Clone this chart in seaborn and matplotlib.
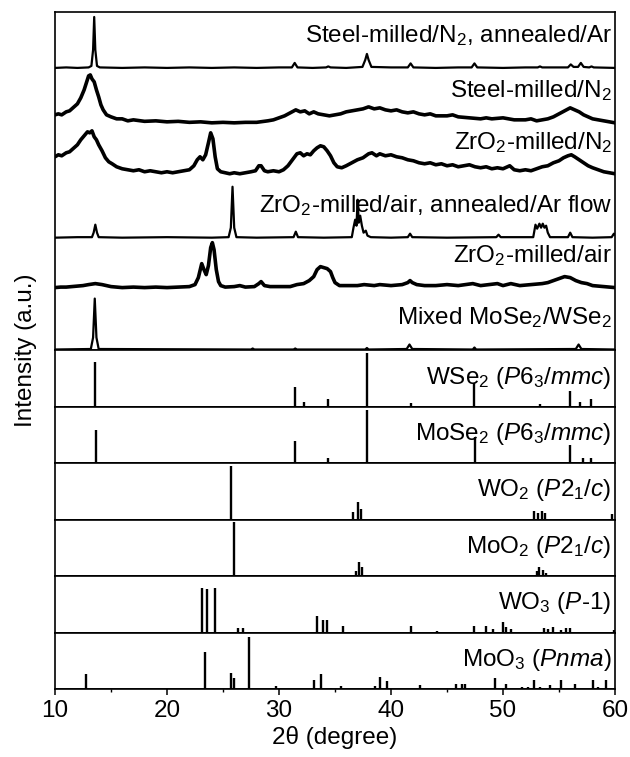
import matplotlib
matplotlib.use("Agg")
import matplotlib.pyplot as plt
import pandas as pd
import seaborn as sns
from matplotlib.ticker import MultipleLocator

# ---------------------------------------------------------------------------
# Measured XRD patterns: (2theta, intensity above the pattern's own baseline)
# ---------------------------------------------------------------------------
steel_n2_annealed = [
    (10.0, 0), (11.0, 0.5), (12.0, 0), (13.0, 0.5), (13.25, 2), (13.4, 18),
    (13.5, 51), (13.6, 18), (13.75, 2), (14.0, 0.5), (16.0, 0), (18.0, 0.5),
    (20.0, 0), (22.0, 0.5), (24.0, 0), (26.0, 0.5), (28.0, 0), (30.0, 0.5),
    (31.15, 0.5), (31.4, 5), (31.65, 0.5), (33.0, 0), (34.2, 0.5), (34.4, 1.5),
    (34.6, 0.5), (36.0, 0), (37.45, 1), (37.7, 8), (37.85, 14), (38.0, 8),
    (38.25, 1), (40.0, 0.5), (41.5, 0.5), (41.75, 4.5), (42.0, 0.5), (44.0, 0),
    (46.0, 0.5), (47.2, 0.5), (47.45, 4.5), (47.7, 0.5), (50.0, 0), (52.0, 0.5),
    (53.1, 0.5), (53.3, 1.5), (53.5, 0.5), (55.8, 0.5), (56.05, 3.5), (56.3, 1),
    (56.7, 1), (56.95, 5), (57.2, 1), (57.7, 0.5), (57.9, 1.5), (58.1, 0.5),
    (60.0, 0),
]

steel_n2 = [
    (10.0, 8), (10.3, 9), (10.6, 8), (11.0, 11), (11.3, 12), (11.6, 15),
    (12.0, 19), (12.3, 25), (12.6, 33), (12.8, 40), (13.0, 47), (13.15, 48),
    (13.3, 44), (13.5, 41), (13.7, 33), (13.9, 26), (14.1, 18), (14.3, 13),
    (14.6, 8), (15.0, 6), (15.5, 4), (16.0, 4), (16.5, 2), (17.0, 3),
    (18.0, 1.5), (19.0, 2), (20.0, 1), (21.0, 1.5), (22.0, 0.5), (23.0, 1),
    (24.0, 0), (25.0, 0.5), (26.0, 0), (27.0, 0.5), (28.0, 0.5), (29.0, 2),
    (29.5, 3), (30.0, 5), (30.5, 7), (31.0, 10), (31.5, 13), (31.9, 11),
    (32.3, 12), (32.7, 9), (33.1, 11), (33.5, 9), (34.0, 8), (34.5, 7),
    (35.0, 8), (35.5, 9), (36.0, 11), (36.5, 12), (37.0, 13), (37.5, 14),
    (38.0, 16), (38.5, 14), (39.0, 15), (39.5, 13), (40.0, 12), (40.5, 13),
    (41.0, 11), (41.5, 10), (42.0, 11), (42.5, 9), (43.0, 8), (43.5, 9),
    (44.0, 7), (45.0, 7), (45.5, 8), (46.0, 6), (47.0, 5), (48.0, 4),
    (48.5, 5), (49.0, 4), (50.0, 5), (51.0, 3), (52.0, 3), (52.5, 4),
    (53.0, 2), (53.5, 3), (54.0, 4), (54.5, 6), (55.0, 9), (55.5, 12),
    (56.0, 15), (56.4, 13), (56.8, 11), (57.2, 8), (57.6, 6), (58.0, 4),
    (58.5, 3), (59.0, 2), (59.5, 1), (60.0, 0),
]

zro2_n2 = [
    (10.0, 18), (10.3, 20), (10.6, 19), (11.0, 22), (11.3, 23), (11.6, 26),
    (12.0, 30), (12.3, 35), (12.6, 39), (12.9, 43), (13.1, 42), (13.3, 44),
    (13.5, 38), (13.7, 35), (13.9, 30), (14.2, 24), (14.5, 17), (14.8, 13),
    (15.1, 11), (15.5, 8), (16.0, 6), (16.5, 5), (17.0, 4), (17.5, 5),
    (18.0, 3), (18.5, 4), (19.0, 3), (19.5, 2), (20.0, 3), (20.5, 2),
    (21.0, 3), (21.5, 4), (22.0, 5), (22.4, 9), (22.7, 15), (22.95, 18),
    (23.2, 15), (23.45, 20), (23.7, 32), (23.9, 42), (24.1, 36), (24.3, 18),
    (24.5, 6), (24.8, 3), (25.2, 2), (25.6, 1), (26.0, 2), (26.5, 1),
    (27.0, 2), (27.5, 3), (27.9, 4), (28.2, 9), (28.4, 9), (28.7, 4),
    (29.0, 3), (29.5, 4), (30.0, 3), (30.4, 5), (30.8, 9), (31.2, 15),
    (31.6, 21), (31.9, 22), (32.2, 19), (32.5, 21), (32.8, 20), (33.1, 24),
    (33.4, 27), (33.7, 29), (34.0, 28), (34.3, 24), (34.6, 19), (34.9, 12),
    (35.2, 8), (35.6, 7), (36.0, 9), (36.5, 12), (37.0, 15), (37.5, 17),
    (38.0, 21), (38.3, 22), (38.7, 19), (39.0, 21), (39.5, 19), (40.0, 20),
    (40.5, 18), (41.0, 17), (41.5, 15), (42.0, 14), (42.5, 12), (43.0, 11),
    (43.5, 12), (44.0, 10), (44.5, 11), (45.0, 9), (45.5, 10), (46.0, 8),
    (46.5, 9), (47.0, 10), (47.5, 8), (48.0, 7), (48.5, 8), (49.0, 6),
    (49.5, 7), (50.0, 6), (50.6, 9), (51.0, 5), (51.5, 4), (52.0, 5),
    (52.5, 4), (53.0, 6), (53.5, 8), (54.0, 9), (54.5, 12), (55.0, 14),
    (55.4, 17), (55.8, 19), (56.1, 20), (56.4, 18), (56.8, 15), (57.2, 12),
    (57.6, 9), (58.0, 7), (58.5, 5), (59.0, 3), (59.5, 2), (60.0, 1),
]

zro2_air_annealed = [
    (10.0, 0), (12.0, 0.5), (13.3, 0.5), (13.45, 5), (13.6, 13), (13.75, 5),
    (13.9, 0.5), (16.0, 0), (20.0, 0.5), (24.0, 0), (25.5, 0.5), (25.7, 10),
    (25.85, 51), (26.0, 10), (26.2, 0.5), (28.0, 0), (31.3, 0.5), (31.5, 6),
    (31.7, 0.5), (34.0, 0), (36.5, 0.5), (36.65, 10), (36.8, 18), (36.92, 12),
    (37.02, 38), (37.12, 15), (37.25, 22), (37.4, 12), (37.55, 5), (37.75, 7),
    (37.9, 2), (38.2, 0.5), (40.0, 0), (41.5, 0.5), (41.7, 4), (41.9, 0.5),
    (45.0, 0), (49.4, 0.5), (49.6, 3), (49.8, 0.5), (52.7, 0.5), (52.9, 13),
    (53.05, 9), (53.25, 14), (53.4, 10), (53.55, 14), (53.7, 10), (53.85, 12),
    (54.0, 5), (54.2, 0.5), (55.8, 0.5), (56.0, 5), (56.2, 0.5), (58.0, 0),
    (59.7, 0.5), (59.9, 4), (60.0, 3),
]

zro2_air = [
    (10.0, 0), (10.5, 0.5), (11.0, 0.5), (11.5, 1), (12.0, 1.5), (12.5, 2),
    (13.0, 3), (13.6, 4), (14.2, 3), (14.6, 2), (15.0, 1), (15.5, 0.5),
    (16.0, 0), (17.0, 0.5), (18.0, 0), (19.0, 0.5), (20.0, 0), (21.0, 0.5),
    (22.0, 1), (22.5, 3), (22.8, 10), (23.1, 24), (23.3, 18), (23.5, 13),
    (23.7, 22), (23.9, 40), (24.05, 45), (24.2, 38), (24.4, 18), (24.6, 6),
    (24.8, 2), (25.2, 0.5), (26.0, 1), (26.5, 2), (27.0, 0.5), (27.8, 1),
    (28.2, 4), (28.4, 6), (28.7, 2), (29.2, 1), (30.0, 1), (31.0, 1),
    (31.6, 3), (32.2, 4), (32.7, 7), (33.1, 11), (33.4, 18), (33.7, 21),
    (34.0, 20), (34.3, 19), (34.6, 16), (34.8, 10), (35.0, 5), (35.4, 2),
    (36.0, 2), (37.0, 2), (37.6, 3), (38.5, 2), (39.0, 3), (40.0, 2),
    (41.0, 3), (41.5, 5), (41.7, 7), (41.9, 5), (42.3, 3), (43.0, 2),
    (44.0, 2), (45.0, 3), (46.0, 2), (47.3, 4), (48.0, 2), (49.5, 4),
    (50.0, 2), (50.7, 4), (51.5, 2), (52.5, 3), (53.5, 4), (54.0, 5),
    (54.5, 7), (55.0, 9), (55.5, 11), (56.0, 10), (56.5, 7), (57.0, 5),
    (57.5, 4), (58.0, 2), (59.0, 1), (60.0, 0),
]

mixed_mose2_wse2 = [
    (10.0, 0), (13.2, 0.5), (13.4, 12), (13.55, 51), (13.7, 12), (13.9, 0.5),
    (27.5, 0), (27.65, 1), (27.8, 0), (31.3, 0), (31.45, 1), (31.6, 0),
    (37.7, 0), (37.85, 1.5), (38.0, 0), (41.4, 0.5), (41.65, 5), (41.9, 0.5),
    (47.3, 0), (47.45, 2), (47.6, 0), (56.5, 0.5), (56.75, 5), (57.0, 0.5),
    (60.0, 0),
]

measured_labels = [
    r"Steel-milled/N$_2$, annealed/Ar",
    r"Steel-milled/N$_2$",
    r"ZrO$_2$-milled/N$_2$",
    r"ZrO$_2$-milled/air, annealed/Ar flow",
    r"ZrO$_2$-milled/air",
    r"Mixed MoSe$_2$/WSe$_2$",
]
measured_patterns = [steel_n2_annealed, steel_n2, zro2_n2,
                     zro2_air_annealed, zro2_air, mixed_mose2_wse2]
measured_offsets = [283, 228, 176, 113, 63, 1]
measured_noisy = [False, True, True, False, True, False]

# ---------------------------------------------------------------------------
# Reference stick patterns: peak positions (2theta) and relative intensities
# ---------------------------------------------------------------------------
wse2_pos = [13.6, 31.45, 32.2, 34.4, 37.85, 41.8, 47.45, 53.3, 55.95, 56.85, 57.85, 59.9]
wse2_int = [82, 36, 9, 14, 100, 7, 45, 6, 29, 9, 14, 2]

mose2_pos = [13.7, 27.6, 31.4, 34.4, 37.9, 42.0, 47.5, 53.4, 56.0, 57.1, 57.9]
mose2_int = [61, 3, 42, 10, 99, 3, 48, 3, 33, 10, 9]

wo2_pos = [18.5, 25.75, 31.6, 36.65, 37.05, 37.35, 41.7, 49.5, 52.8, 53.1, 53.45, 53.75, 56.0, 59.75]
wo2_int = [2, 100, 2, 14, 33, 20, 2, 2, 17, 13, 17, 13, 2, 10]

moo2_pos = [18.4, 26.0, 31.8, 36.85, 37.1, 37.45, 41.5, 41.9, 49.4, 53.0, 53.25, 53.55, 53.8, 59.7]
moo2_int = [2, 100, 2, 9, 27, 17, 2, 2, 2, 9, 16, 12, 6, 2]

wo3_pos = [23.1, 23.6, 24.3, 26.3, 26.8, 33.4, 33.9, 34.3, 35.7, 41.8, 44.1, 47.4,
           48.5, 49.1, 50.0, 50.3, 50.7, 53.7, 54.0, 54.5, 55.2, 55.6, 56.0, 59.9]
wo3_int = [82, 80, 82, 9, 8, 30, 24, 24, 12, 12, 3, 12,
           12, 6, 20, 10, 6, 9, 7, 10, 5, 8, 8, 5]

moo3_pos = [12.8, 23.35, 25.75, 25.95, 27.35, 29.75, 33.15, 33.75, 34.6, 35.5, 38.6,
            39.0, 39.65, 42.6, 45.8, 46.3, 46.6, 49.3, 50.3, 51.7, 52.2, 52.8, 53.3,
            54.2, 55.2, 56.4, 58.0, 58.5, 59.2]
moo3_int = [27, 68, 30, 20, 95, 6, 16, 28, 2, 6, 6,
            23, 14, 8, 10, 9, 9, 20, 10, 3, 3, 17, 4,
            8, 16, 9, 17, 4, 16]

reference_labels = [
    r"WSe$_2$ ($\mathit{P6_3/mmc}$)",
    r"MoSe$_2$ ($\mathit{P6_3/mmc}$)",
    r"WO$_2$ ($\mathit{P2_1/c}$)",
    r"MoO$_2$ ($\mathit{P2_1/c}$)",
    r"WO$_3$ ($\mathit{P}$-$\mathit{1}$)",
    r"MoO$_3$ ($\mathit{Pnma}$)",
]
reference_patterns = [(wse2_pos, wse2_int), (mose2_pos, mose2_int),
                      (wo2_pos, wo2_int), (moo2_pos, moo2_int),
                      (wo3_pos, wo3_int), (moo3_pos, moo3_int)]

x_ticks = [10, 20, 30, 40, 50, 60]

# ---------------------------------------------------------------------------
# Style
# ---------------------------------------------------------------------------
sns.set_style("ticks")
plt.rcParams["font.family"] = ["Liberation Sans", "DejaVu Sans"]
plt.rcParams["mathtext.fontset"] = "custom"
plt.rcParams["mathtext.rm"] = "Liberation Sans"
plt.rcParams["mathtext.it"] = "Liberation Sans:italic"
plt.rcParams["mathtext.bf"] = "Liberation Sans:bold"
plt.rcParams["axes.linewidth"] = 1.2
plt.rcParams["axes.edgecolor"] = "black"
plt.rcParams["text.color"] = "black"
plt.rcParams["axes.labelcolor"] = "black"
plt.rcParams["xtick.color"] = "black"
plt.rcParams["xtick.labelcolor"] = "black"

FS = 17.5

fig = plt.figure(figsize=(6.3, 7.57), dpi=100)
gs = fig.add_gridspec(7, 1, height_ratios=[6, 1, 1, 1, 1, 1, 1], hspace=0,
                      left=55 / 630, right=615 / 630,
                      top=1 - 12 / 757, bottom=1 - 689 / 757)

# Measured patterns, stacked in one panel
ax_top = fig.add_subplot(gs[0])
for pattern, offset, noisy, label in zip(measured_patterns, measured_offsets,
                                         measured_noisy, measured_labels):
    tt, inten = zip(*pattern)
    df = pd.DataFrame({"two_theta": tt, "intensity": [v + offset for v in inten]})
    sns.lineplot(data=df, x="two_theta", y="intensity", ax=ax_top,
                 color="black", lw=2.6 if noisy else 1.6,
                 estimator=None, sort=False)
    ax_top.text(59.75, offset + 32, label, ha="right", va="center",
                fontsize=FS, color="black")
ax_top.set_xlim(10, 60)
ax_top.set_ylim(0, 339)

# Reference stick patterns, one panel each
axes = [ax_top]
for i, ((pos, inten), label) in enumerate(zip(reference_patterns, reference_labels)):
    ax = fig.add_subplot(gs[i + 1], sharex=ax_top)
    ax.vlines(pos, 0, inten, color="black", lw=1.7)
    ax.axhline(0, color="black", lw=2.0)
    ax.set_ylim(0, 104)
    ax.text(0.993, 0.52, label, transform=ax.transAxes, ha="right",
            va="center", fontsize=FS, color="black")
    axes.append(ax)

for ax in axes:
    ax.set_ylabel("")
    ax.set_xlabel("")
    ax.set_yticks([])
    for side in ["top", "right", "left", "bottom"]:
        ax.spines[side].set_visible(True)
        ax.spines[side].set_linewidth(1.2)
        ax.spines[side].set_color("black")
    ax.tick_params(axis="x", which="both", bottom=False, labelbottom=False)

ax_bot = axes[-1]
ax_bot.set_xticks(x_ticks)
ax_bot.xaxis.set_minor_locator(MultipleLocator(5))
ax_bot.tick_params(axis="x", which="major", bottom=True, labelbottom=True,
                   direction="out", length=4, width=1.1, labelsize=FS, pad=4,
                   colors="black")
ax_bot.tick_params(axis="x", which="minor", bottom=True, direction="out",
                   length=2.5, width=1.0, colors="black")
ax_bot.set_xlim(10, 60)
ax_bot.set_xlabel("2\u03b8 (degree)", fontsize=FS, labelpad=3, color="black")

fig.text(26 / 630, 1 - 350 / 757, "Intensity (a.u.)", rotation=90,
         ha="center", va="center", fontsize=FS, color="black")

fig.savefig("out.png", dpi=100)
